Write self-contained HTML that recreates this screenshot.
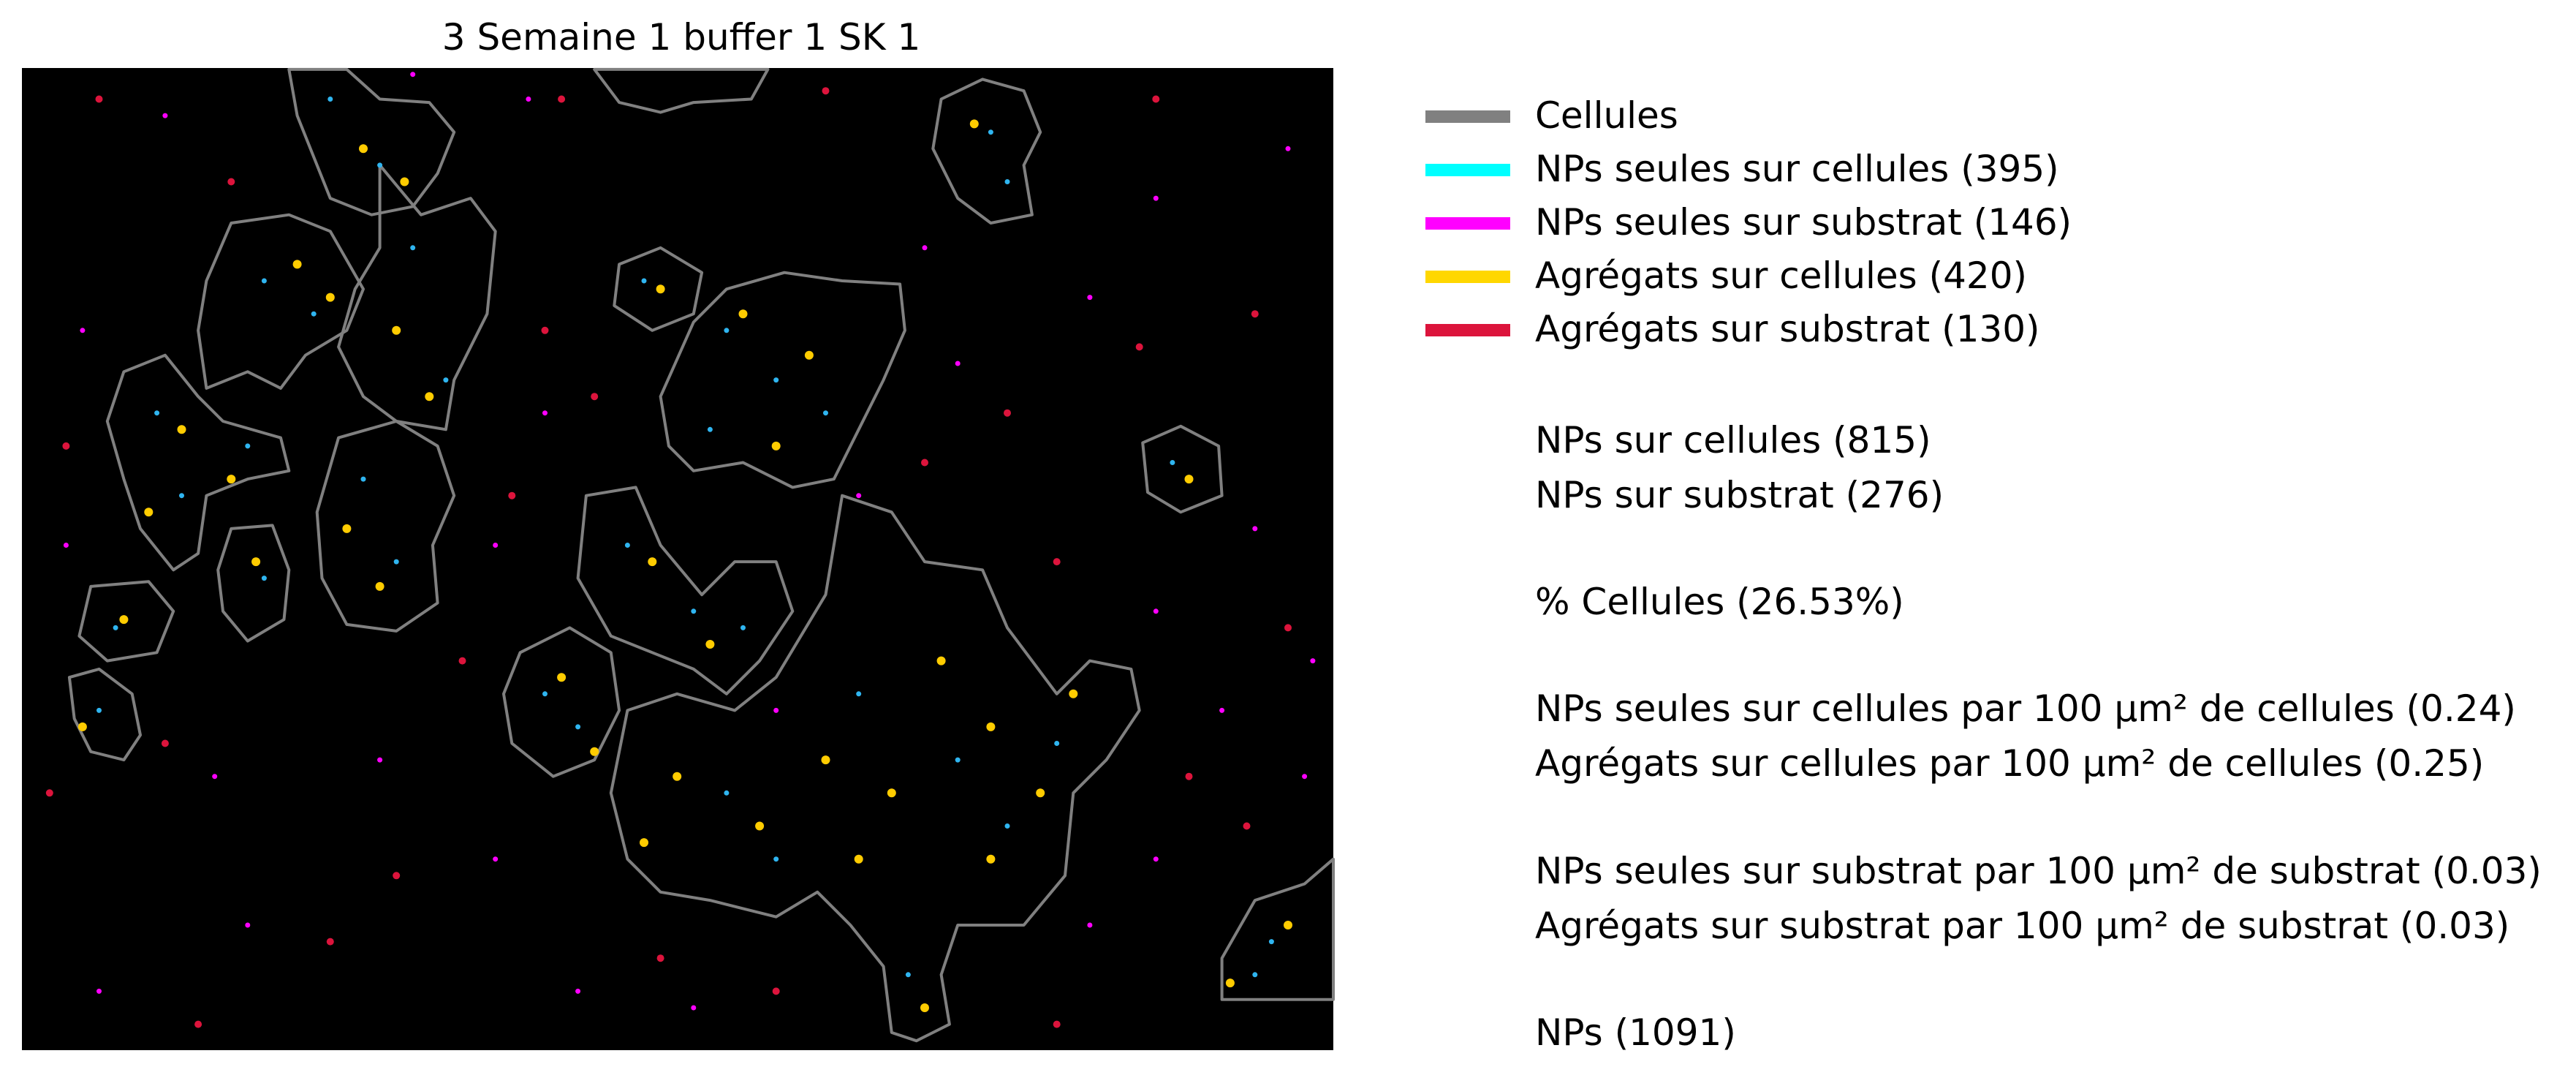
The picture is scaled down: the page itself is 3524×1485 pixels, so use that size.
<!DOCTYPE html>
<html><head><meta charset="utf-8">
<style>
html,body{margin:0;padding:0;background:#fff;}
body{width:3524px;height:1485px;position:relative;overflow:hidden;font-family:"DejaVu Sans","Liberation Sans",sans-serif;}
svg{position:absolute;left:0;top:0;}
text{font-family:"DejaVu Sans","Liberation Sans",sans-serif;font-size:50px;fill:#000;}
</style></head>
<body>
<svg id="fig" width="3524" height="1485" viewBox="0 0 3524 1485">
<text x="932" y="68" text-anchor="middle">3 Semaine 1 buffer 1 SK 1</text>
<rect x="30" y="93" width="1794" height="1343" fill="#000"/>
<g id="cells"></g>
<g id="dots"></g>
<g>
<rect x="1950" y="151" width="116" height="17" fill="#808080"/>
<text x="2100" y="175">Cellules</text>
<rect x="1950" y="224" width="116" height="17" fill="#00ffff"/>
<text x="2100" y="248">NPs seules sur cellules (395)</text>
<rect x="1950" y="297" width="116" height="17" fill="#ff00ff"/>
<text x="2100" y="321">NPs seules sur substrat (146)</text>
<rect x="1950" y="370" width="116" height="17" fill="#ffd700"/>
<text x="2100" y="394">Agrégats sur cellules (420)</text>
<rect x="1950" y="443" width="116" height="17" fill="#dc143c"/>
<text x="2100" y="467">Agrégats sur substrat (130)</text>
<text x="2100" y="619">NPs sur cellules (815)</text>
<text x="2100" y="694">NPs sur substrat (276)</text>
<text x="2100" y="840">% Cellules (26.53%)</text>
<text x="2100" y="986">NPs seules sur cellules par 100 µm² de cellules (0.24)</text>
<text x="2100" y="1061">Agrégats sur cellules par 100 µm² de cellules (0.25)</text>
<text x="2100" y="1208">NPs seules sur substrat par 100 µm² de substrat (0.03)</text>
<text x="2100" y="1283">Agrégats sur substrat par 100 µm² de substrat (0.03)</text>
<text x="2100" y="1429">NPs (1091)</text>
</g>
</svg>
<script>
const cellShapes = [
 [[175,42],[210,42],[230,60],[260,62],[275,80],[265,105],[250,125],[225,130],[200,120],[190,95],[180,70]],
 [[140,135],[175,130],[200,140],[220,175],[210,200],[185,215],[170,235],[150,225],[125,235],[120,200],[125,170]],
 [[230,100],[255,130],[285,120],[300,140],[295,190],[275,230],[270,260],[240,255],[220,240],[205,210],[215,175],[230,150]],
 [[75,225],[100,215],[120,240],[135,255],[170,265],[175,285],[150,290],[125,300],[120,335],[105,345],[85,320],[75,290],[65,255]],
 [[205,265],[240,255],[265,270],[275,300],[262,330],[265,365],[240,382],[210,378],[195,350],[192,310]],
 [[140,320],[165,318],[175,345],[172,375],[150,388],[135,370],[132,345]],
 [[55,355],[90,352],[105,370],[95,395],[65,400],[48,385]],
 [[42,410],[60,405],[80,420],[85,445],[75,460],[55,455],[45,435]],
 [[360,42],[465,42],[455,60],[420,62],[400,68],[375,62]],
 [[570,60],[595,48],[620,55],[630,80],[620,100],[625,130],[600,135],[580,120],[565,90]],
 [[375,160],[400,150],[425,165],[420,190],[395,200],[372,185]],
 [[420,195],[440,175],[475,165],[510,170],[545,172],[548,200],[535,230],[520,260],[505,290],[480,295],[450,280],[420,285],[405,270],[400,240]],
 [[692,268],[715,258],[738,270],[740,300],[715,310],[695,298]],
 [[355,300],[385,295],[400,330],[425,360],[445,340],[470,340],[480,370],[460,400],[440,420],[420,405],[395,395],[370,385],[350,350]],
 [[315,395],[345,380],[370,395],[375,430],[360,460],[335,470],[310,450],[305,420]],
 [[380,430],[410,420],[445,430],[470,410],[500,360],[510,300],[540,310],[560,340],[595,345],[610,380],[640,420],[660,400],[685,405],[690,430],[670,460],[650,480],[645,530],[620,560],[580,560],[570,590],[575,620],[555,630],[540,625],[535,585],[515,560],[495,540],[470,555],[430,545],[400,540],[380,520],[370,480]],
 [[740,580],[760,545],[790,535],[810,520],[810,605],[740,605]]
];
const npsCellsPts = [[200,60],[230,100],[160,170],[190,190],[250,150],[270,230],[95,250],[110,300],[150,270],[220,290],[240,340],[160,350],[70,380],[60,430],[440,200],[470,230],[500,250],[430,260],[600,80],[610,110],[390,170],[710,280],[380,330],[420,370],[450,380],[330,420],[350,440],[440,480],[520,420],[580,460],[610,500],[550,590],[470,520],[640,450],[770,570],[760,590]];
const aggCellsPts = [[220,90],[245,110],[180,160],[200,180],[240,200],[260,240],[110,260],[140,290],[90,310],[210,320],[230,355],[155,340],[75,375],[50,440],[450,190],[490,215],[470,270],[590,75],[400,175],[720,290],[395,340],[430,390],[340,410],[360,455],[410,470],[460,500],[500,460],[540,480],[600,440],[630,480],[560,610],[520,520],[570,400],[650,420],[780,560],[745,595],[390,510],[600,520]];
const npsSubPts = [[100,70],[250,45],[320,60],[560,150],[700,120],[780,90],[50,200],[40,330],[330,250],[580,220],[660,180],[760,320],[300,330],[520,300],[470,430],[700,370],[740,430],[790,470],[230,460],[300,520],[150,560],[60,600],[420,610],[660,560],[700,520],[795,400],[130,470],[350,600]];
const aggSubPts = [[60,60],[140,110],[340,60],[500,55],[700,60],[760,190],[40,270],[30,480],[330,200],[360,240],[690,210],[640,340],[780,380],[310,300],[280,400],[240,530],[120,620],[200,570],[470,600],[640,620],[720,470],[755,500],[100,450],[400,580],[560,280],[610,250]];

const S = 3524/1560;
const svgNS = 'http://www.w3.org/2000/svg';
function sx(x){ return Math.min(1824, Math.max(30, x*S)); }
function sy(y){ return Math.min(1436, Math.max(93, y*S)); }
const cellsG = document.getElementById('cells');
cellShapes.forEach((pts,i)=>{
  const p = document.createElementNS(svgNS,'polygon');
  p.setAttribute('points', pts.map(q=>sx(q[0]).toFixed(1)+','+sy(q[1]).toFixed(1)).join(' '));
  p.setAttribute('fill','none');
  p.setAttribute('stroke','#808080');
  p.setAttribute('stroke-width','4');
  p.setAttribute('stroke-linejoin','round');
  
  
  cellsG.appendChild(p);
});
const dotsG = document.getElementById('dots');
function drawDots(arr,color,r,name){
  arr.forEach(q=>{
    const c = document.createElementNS(svgNS,'circle');
    c.setAttribute('cx', sx(q[0]).toFixed(1));
    c.setAttribute('cy', sy(q[1]).toFixed(1));
    c.setAttribute('r', r);
    c.setAttribute('fill', color);
    
    
    dotsG.appendChild(c);
  });
}
drawDots(npsCellsPts,'#2fb5f0',3.5,'np-on-cell');
drawDots(aggCellsPts,'#ffcc00',6,'aggregate-on-cell');
drawDots(npsSubPts,'#ff00ff',3.5,'np-on-substrate');
drawDots(aggSubPts,'#dc143c',5,'aggregate-on-substrate');
</script>
</body></html>
